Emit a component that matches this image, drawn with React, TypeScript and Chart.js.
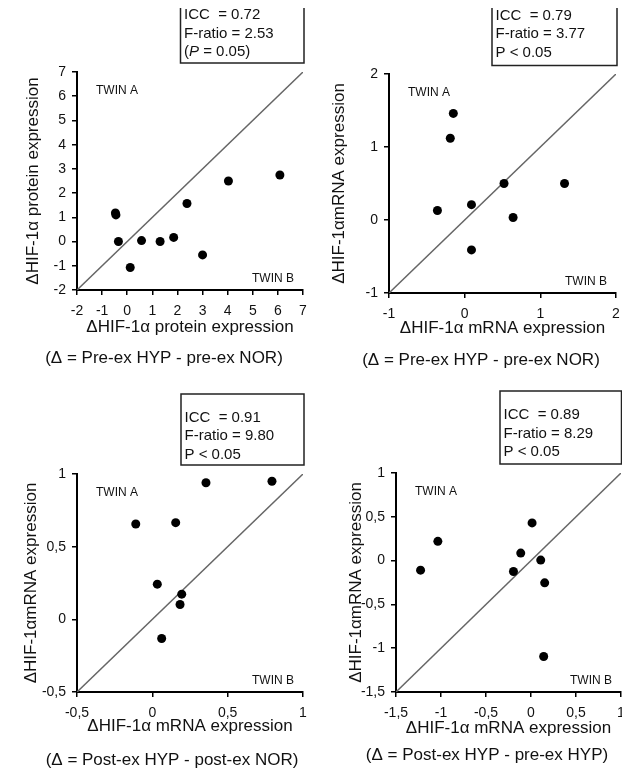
import React, { useEffect, useRef } from "react";
import { Chart, registerables } from "chart.js";

Chart.register(...registerables);

const FONT = "'Liberation Sans', Arial, Helvetica, sans-serif";

// ---------- Panel 1 : protein, pre-ex HYP - pre-ex NOR ----------
const P1_X = [-0.47, -0.45, -0.35, 0.12, 0.57, 1.31, 1.85, 2.38, 3.0, 4.03, 6.08];
const P1_Y = [1.18, 1.1, 0.0, -1.07, 0.04, 0.0, 0.17, 1.57, -0.55, 2.5, 2.75];
const P1_AXIS = [-2, 7];
const P1_STEP = 1;
const P1_TICKS = [-2, -1, 0, 1, 2, 3, 4, 5, 6, 7];
const P1_TICK_LABELS = ["-2", "-1", "0", "1", "2", "3", "4", "5", "6", "7"];
const P1_XTITLE = "ΔHIF-1α protein expression";
const P1_YTITLE = "ΔHIF-1α protein expression";
const P1_STATS = ["ICC  = 0.72", "F-ratio = 2.53", "(P = 0.05)"];
const P1_CAPTION = "(Δ = Pre-ex HYP - pre-ex NOR)";

// ---------- Panel 2 : mRNA, pre-ex HYP - pre-ex NOR ----------
const P2_X = [-0.15, -0.19, -0.36, 0.09, 0.09, 0.52, 0.64, 1.32];
const P2_Y = [1.46, 1.12, 0.13, 0.21, -0.41, 0.5, 0.035, 0.5];
const P2_AXIS = [-1, 2];
const P2_STEP = 1;
const P2_TICKS = [-1, 0, 1, 2];
const P2_TICK_LABELS = ["-1", "0", "1", "2"];
const P2_XTITLE = "ΔHIF-1α mRNA expression";
const P2_YTITLE = "ΔHIF-1αmRNA expression";
const P2_STATS = ["ICC  = 0.79", "F-ratio = 3.77", "P < 0.05"];
const P2_CAPTION = "(Δ = Pre-ex HYP - pre-ex NOR)";

// ---------- Panel 3 : mRNA, post-ex HYP - post-ex NOR ----------
const P3_X = [0.356, 0.794, -0.11, 0.155, 0.033, 0.195, 0.184, 0.062];
const P3_Y = [0.94, 0.95, 0.656, 0.665, 0.242, 0.173, 0.102, -0.132];
const P3_AXIS = [-0.5, 1];
const P3_STEP = 0.5;
const P3_TICKS = [-0.5, 0, 0.5, 1];
const P3_TICK_LABELS = ["-0,5", "0", "0,5", "1"];
const P3_XTITLE = "ΔHIF-1α mRNA expression";
const P3_YTITLE = "ΔHIF-1αmRNA expression";
const P3_STATS = ["ICC  = 0.91", "F-ratio = 9.80", "P < 0.05"];
const P3_CAPTION = "(Δ = Post-ex HYP - post-ex NOR)";

// ---------- Panel 4 : mRNA, post-ex HYP - pre-ex HYP ----------
const P4_X = [-1.227, -1.035, 0.012, -0.114, -0.195, 0.108, 0.152, 0.141];
const P4_Y = [-0.109, 0.22, 0.43, 0.086, -0.124, 0.006, -0.254, -1.095];
const P4_AXIS = [-1.5, 1];
const P4_STEP = 0.5;
const P4_TICKS = [-1.5, -1, -0.5, 0, 0.5, 1];
const P4_TICK_LABELS = ["-1,5", "-1", "-0,5", "0", "0,5", "1"];
const P4_XTITLE = "ΔHIF-1α mRNA expression";
const P4_YTITLE = "ΔHIF-1αmRNA expression";
const P4_STATS = ["ICC  = 0.89", "F-ratio = 8.29", "P < 0.05"];
const P4_CAPTION = "(Δ = Post-ex HYP - pre-ex HYP)";

const W = 315;
const H = 387;
const TITLE_SIZE = 17;
const TITLE_LH = TITLE_SIZE * 1.2;

type Panel = {
  xs: number[];
  ys: number[];
  axis: number[];
  step: number;
  ticks: number[];
  tickLabels: string[];
  xTitle: string;
  yTitle: string;
  stats: string[];
  caption: string;
  area: { l: number; t: number; r: number; b: number };
  yTitleOff: number;
  xTitleOff: number;
  box: { x: number; y: number; w: number; h: number; line1: number };
  cap: { x: number; y: number };
};

const PANELS: Panel[] = [
  {
    xs: P1_X, ys: P1_Y, axis: P1_AXIS, step: P1_STEP, ticks: P1_TICKS, tickLabels: P1_TICK_LABELS,
    xTitle: P1_XTITLE, yTitle: P1_YTITLE, stats: P1_STATS, caption: P1_CAPTION,
    area: { l: 77, t: 72, r: 303, b: 290 },
    yTitleOff: 43.5, xTitleOff: 37.5,
    box: { x: 180.5, y: 3.5, w: 123.5, h: 59.5, line1: 11.5 },
    cap: { x: 164, y: 358.5 },
  },
  {
    xs: P2_X, ys: P2_Y, axis: P2_AXIS, step: P2_STEP, ticks: P2_TICKS, tickLabels: P2_TICK_LABELS,
    xTitle: P2_XTITLE, yTitle: P2_YTITLE, stats: P2_STATS, caption: P2_CAPTION,
    area: { l: 74, t: 74, r: 301, b: 293 },
    yTitleOff: 50, xTitleOff: 35,
    box: { x: 177, y: 1.5, w: 125, h: 64, line1: 14 },
    cap: { x: 166, y: 360 },
  },
  {
    xs: P3_X, ys: P3_Y, axis: P3_AXIS, step: P3_STEP, ticks: P3_TICKS, tickLabels: P3_TICK_LABELS,
    xTitle: P3_XTITLE, yTitle: P3_YTITLE, stats: P3_STATS, caption: P3_CAPTION,
    area: { l: 77, t: 87, r: 303, b: 305 },
    yTitleOff: 46, xTitleOff: 34,
    box: { x: 181, y: 7, w: 123, h: 71, line1: 23.5 },
    cap: { x: 172, y: 373.5 },
  },
  {
    xs: P4_X, ys: P4_Y, axis: P4_AXIS, step: P4_STEP, ticks: P4_TICKS, tickLabels: P4_TICK_LABELS,
    xTitle: P4_XTITLE, yTitle: P4_YTITLE, stats: P4_STATS, caption: P4_CAPTION,
    area: { l: 81, t: 86, r: 306, b: 305 },
    yTitleOff: 40, xTitleOff: 36,
    box: { x: 185, y: 4, w: 121.5, h: 73, line1: 24 },
    cap: { x: 172, y: 368.5 },
  },
];

function overlayPlugin(p: Panel) {
  return {
    id: "overlay",
    afterDraw(chart: any) {
      const ctx: CanvasRenderingContext2D = chart.ctx;
      const ca = chart.chartArea;
      ctx.save();
      ctx.fillStyle = "#111";
      // TWIN labels
      ctx.font = `12px ${FONT}`;
      ctx.textBaseline = "alphabetic";
      ctx.textAlign = "left";
      ctx.fillText("TWIN A", ca.left + 19, ca.top + 22);
      ctx.textAlign = "right";
      ctx.fillText("TWIN B", ca.right - 9, ca.bottom - 8);

      // stats box
      const b = p.box;
      ctx.strokeStyle = "#222";
      ctx.lineWidth = 1.5;
      ctx.strokeRect(b.x, b.y, b.w, b.h);
      ctx.textAlign = "left";
      ctx.textBaseline = "middle";
      const fs = 15;
      p.stats.forEach((line, i) => {
        const y = b.y + b.line1 + i * 18.5;
        const x = b.x + 3.5;
        const m = line.match(/^\((P)( = .*)$/);
        if (m) {
          ctx.font = `${fs}px ${FONT}`;
          ctx.fillText("(", x, y);
          let cx = x + ctx.measureText("(").width;
          ctx.font = `italic ${fs}px ${FONT}`;
          ctx.fillText("P", cx, y);
          cx += ctx.measureText("P").width;
          ctx.font = `${fs}px ${FONT}`;
          ctx.fillText(m[2], cx, y);
        } else {
          ctx.font = `${fs}px ${FONT}`;
          ctx.fillText(line, x, y);
        }
      });

      // caption
      ctx.font = `17px ${FONT}`;
      ctx.textAlign = "center";
      ctx.textBaseline = "middle";
      ctx.fillText(p.caption, p.cap.x, p.cap.y);
      ctx.restore();
    },
  };
}

function PanelChart({ p }: { p: Panel }) {
  const ref = useRef<HTMLCanvasElement | null>(null);
  useEffect(() => {
    if (!ref.current) return;
    const yw = p.yTitleOff + TITLE_LH / 2;
    const xh = p.xTitleOff + TITLE_LH / 2;
    const padding = {
      left: p.area.l - yw,
      top: p.area.t,
      right: W - p.area.r,
      bottom: H - p.area.b - xh,
    };
    const [mn, mx] = p.axis;
    const labelFor = (v: number) => {
      const i = p.ticks.findIndex((t) => Math.abs(t - v) < 1e-9);
      return i >= 0 ? p.tickLabels[i] : "";
    };
    const tickFont = { family: FONT, size: 14 };
    const titleFont = { family: FONT, size: TITLE_SIZE };
    const makeScale = (horizontal: boolean, title: string) => ({
      type: "linear" as const,
      position: horizontal ? ("bottom" as const) : ("left" as const),
      min: mn,
      max: mx,
      afterFit: (s: any) => {
        if (horizontal) {
          s.height = xh;
          s.paddingLeft = 0;
          s.paddingRight = 0;
        } else {
          s.width = yw;
          s.paddingTop = 0;
          s.paddingBottom = 0;
        }
      },
      ticks: {
        stepSize: p.step,
        autoSkip: false,
        maxRotation: 0,
        minRotation: 0,
        padding: horizontal ? 8 : 6,
        color: "#111",
        font: tickFont,
        callback: (v: any) => labelFor(Number(v)),
      },
      grid: {
        display: true,
        drawOnChartArea: false,
        drawTicks: true,
        tickLength: 5,
        color: "#000",
        tickColor: "#000",
        lineWidth: 1.5,
        tickWidth: 1.5,
      },
      border: { display: true, color: "#000", width: 2 },
      title: {
        display: true,
        text: title,
        color: "#111",
        font: titleFont,
        padding: 0,
      },
    });

    const chart = new Chart(ref.current, {
      type: "scatter",
      data: {
        datasets: [
          {
            type: "line",
            data: [
              { x: mn, y: mn },
              { x: mx, y: mx },
            ],
            borderColor: "#666",
            borderWidth: 1.5,
            pointRadius: 0,
            fill: false,
            order: 2,
          } as any,
          {
            data: p.xs.map((x, i) => ({ x, y: p.ys[i] })),
            backgroundColor: "#000",
            borderColor: "#000",
            borderWidth: 0,
            pointRadius: 4.5,
            pointHoverRadius: 4.5,
            order: 1,
          },
        ],
      },
      options: {
        responsive: false,
        animation: false,
        devicePixelRatio: 1,
        layout: { padding },
        plugins: {
          legend: { display: false },
          tooltip: { enabled: false },
          title: { display: false },
        },
        scales: {
          x: makeScale(true, p.xTitle) as any,
          y: makeScale(false, p.yTitle) as any,
        },
      },
      plugins: [overlayPlugin(p)],
    });
    return () => chart.destroy();
  }, [p]);
  return (
    <canvas
      ref={ref}
      width={W}
      height={H}
      style={{ display: "block", width: W, height: H }}
    />
  );
}

export default function App() {
  return (
    <div
      style={{
        position: "relative",
        left: -8,
        top: -8,
        width: 630,
        height: 774,
        display: "flex",
        flexWrap: "wrap",
        background: "#fff",
      }}
    >
      {PANELS.map((p, i) => (
        <PanelChart key={i} p={p} />
      ))}
    </div>
  );
}
